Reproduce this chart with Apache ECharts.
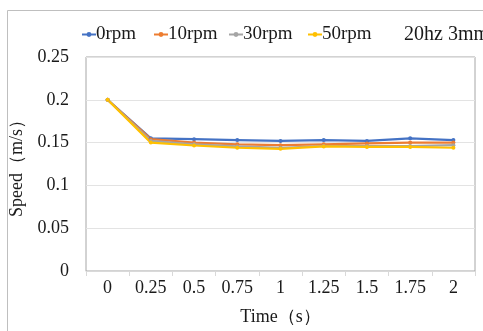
<!DOCTYPE html>
<html><head><meta charset="utf-8">
<script src="https://cdn.jsdelivr.net/npm/echarts@6/dist/echarts.min.js"></script>
<style>html,body{margin:0;padding:0;background:#fff}#c{width:483px;height:331px}</style>
</head><body><div id="c"></div>
<script>
var categories = ['0','0.25','0.5','0.75','1','1.25','1.5','1.75','2'];
var rpm0  = [0.200,0.155,0.154,0.153,0.152,0.153,0.152,0.155,0.153];
var rpm10 = [0.200,0.154,0.150,0.148,0.147,0.148,0.149,0.150,0.150];
var rpm30 = [0.200,0.152,0.148,0.1455,0.144,0.146,0.146,0.146,0.147];
var rpm50 = [0.200,0.150,0.1466,0.144,0.1427,0.1455,0.145,0.145,0.144];
var seriesNames = ['0rpm','10rpm','30rpm','50rpm'];
var colors = ['#4472C4','#ED7D31','#A5A5A5','#FFC000'];
var serif = '"Liberation Serif", "Times New Roman", serif';
var legendLeft = [81, 153, 228, 307];

var chart = echarts.init(document.getElementById('c'));
var data = [rpm0, rpm10, rpm30, rpm50];
chart.setOption({
  animation: false,
  color: colors,
  textStyle: {fontFamily: serif},
  graphic: [
    {type:'rect', shape:{x:7.5,y:10.5,width:500,height:400}, style:{fill:'none', stroke:'#bfbfbf', lineWidth:1}, silent:true},
    {type:'text', left:404, top:25, style:{text:'20hz 3mm', font:'20px ' + serif, fill:'#1a1a1a'}}
  ],
  legend: seriesNames.map(function(n, i){
    return {
      left: legendLeft[i], top: 25, padding: 0, itemWidth: 14, itemHeight: 6,
      data: [n],
      textStyle: {fontSize: 19, color: '#1a1a1a', fontFamily: serif, padding:[0,0,0,-5]}
    };
  }),
  grid: {left: 86, right: 8, top: 57, bottom: 57, show: true, borderColor: '#a6a6a6', borderWidth: 1},
  xAxis: {
    type: 'category', data: categories, boundaryGap: true,
    name: 'Time（s）', nameLocation: 'middle', nameGap: 37,
    nameTextStyle: {fontSize: 18, color: '#1a1a1a', fontFamily: serif},
    axisLine: {lineStyle: {color: '#d9d9d9'}},
    axisTick: {show: true, length: 5, lineStyle: {color: '#d9d9d9'}},
    axisLabel: {fontSize: 18, color: '#1a1a1a', margin: 8, fontFamily: serif},
    splitLine: {show: false}
  },
  yAxis: {
    type: 'value', min: 0, max: 0.25, interval: 0.05,
    name: 'Speed（m/s）', nameLocation: 'middle', nameGap: 54, nameRotate: 90,
    nameTextStyle: {fontSize: 18, color: '#1a1a1a', fontFamily: serif},
    axisLine: {show: false}, axisTick: {show: false},
    axisLabel: {fontSize: 18, color: '#1a1a1a', margin: 17, fontFamily: serif},
    splitLine: {lineStyle: {color: '#e3e3e3'}}
  },
  series: data.map(function(d, i){
    return {
      name: seriesNames[i], type: 'line', data: d,
      symbol: 'circle', symbolSize: 4,
      lineStyle: {width: 2.2},
      itemStyle: {color: colors[i]}
    };
  })
});
</script></body></html>
